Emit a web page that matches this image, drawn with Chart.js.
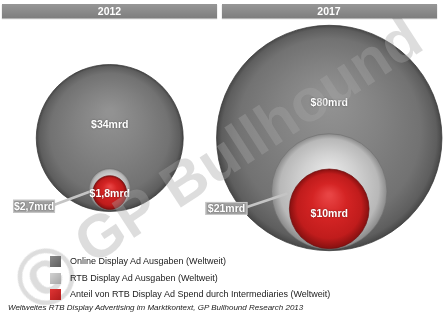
<!DOCTYPE html>
<html><head><meta charset="utf-8">
<script src="https://cdn.jsdelivr.net/npm/chart.js@4/dist/chart.umd.min.js"></script>
<style>
html,body{margin:0;padding:0;background:#fff;}
#wrap{position:relative;width:446px;height:316px;overflow:hidden;font-family:"Liberation Sans",Arial,sans-serif;}
#c{position:absolute;left:0;top:0;}
.hdr{position:absolute;top:4px;height:14px;background:linear-gradient(#979797,#7e7e7e);color:#fff;font-weight:bold;font-size:10.5px;line-height:14px;text-align:center;box-shadow:0 1px 1px rgba(0,0,0,0.3);}
.wm{position:absolute;white-space:nowrap;line-height:1;font-weight:bold;color:rgba(166,166,166,0.38);transform:translate(-50%,-50%) rotate(-33deg);}
#legend{position:absolute;left:50px;top:256px;}
.li{position:relative;height:16.5px;font-size:9px;color:#222;}
.li .sw{position:absolute;left:0;top:0;width:11px;height:11px;}
.li span{position:absolute;left:20px;top:0;line-height:11px;white-space:nowrap;}
#foot{position:absolute;left:8px;top:303px;font-size:8px;font-style:italic;color:#222;white-space:nowrap;}
</style>
</head><body>
<div id="wrap">
<canvas id="c" width="446" height="316"></canvas>
<div class="wm" style="left:46px;top:277px;font-size:80px;">©</div>
<div class="wm" style="left:248px;top:140px;font-size:60px;">GP Bullhound</div>
<div id="legend"></div>
<div id="foot">Weltweites  RTB Display Advertising im Marktkontext, GP Bullhound  Research 2013</div>
</div>
<script>
// ---- data ----
const categories = ['2012', '2017'];
const seriesNames = [
  'Online Display Ad Ausgaben (Weltweit)',
  'RTB Display Ad Ausgaben (Weltweit)',
  'Anteil von RTB Display Ad Spend durch Intermediaries (Weltweit)'
];
const onlineDisplay = [34, 80];        // $ mrd
const rtbDisplay = [2.7, 21];          // $ mrd
const rtbIntermediaries = [1.8, 10];   // $ mrd
const currencyPrefix = '$';
const unitSuffix = 'mrd';

// ---- layout helpers ----
const K = 12.6;            // px radius per sqrt(mrd)
const GAP = 1.5;
const rad = v => K * Math.sqrt(v);
const fmt = v => currencyPrefix + String(v).replace('.', ',') + unitSuffix;

const wrap = document.getElementById('wrap');
const W = 439;
categories.forEach((c, i) => {
  const d = document.createElement('div');
  d.className = 'hdr';
  const l = i * W / 2 + 2, r = (i + 1) * W / 2 - 2.5;
  d.style.left = l + 'px'; d.style.width = (r - l) + 'px';
  d.textContent = c;
  wrap.insertBefore(d, document.getElementById('legend'));
});

const swatches = [
  'linear-gradient(135deg,#8a8a8a,#5e5e5e)',
  'linear-gradient(135deg,#d2d2d2,#a6a6a6)',
  'linear-gradient(135deg,#e03434,#b01c1c)'
];
const leg = document.getElementById('legend');
seriesNames.forEach((n, i) => {
  const d = document.createElement('div'); d.className = 'li';
  const s = document.createElement('div'); s.className = 'sw'; s.style.background = swatches[i];
  const t = document.createElement('span'); t.textContent = n;
  d.appendChild(s); d.appendChild(t); leg.appendChild(d);
});

function sphere(stops) {
  return (ctx) => {
    const chart = ctx.chart, raw = ctx.raw;
    const fallback = stops[2][1];
    if (!raw || !chart.scales || !chart.scales.x || !chart.scales.y) return fallback;
    const x = chart.scales.x.getPixelForValue(raw.x);
    const y = chart.scales.y.getPixelForValue(raw.y);
    const r = raw.r;
    if (![x, y, r].every(Number.isFinite)) return fallback;
    const g = chart.ctx.createRadialGradient(x, y - r * 0.35, r * 0.05, x, y, r);
    stops.forEach(s => g.addColorStop(s[0], s[1]));
    return g;
  };
}

const outerPts = onlineDisplay.map((v, i) => ({ x: i, y: 0, r: rad(v), v }));
const whitePts = rtbDisplay.map((v, i) => ({ x: i, y: rad(onlineDisplay[i]) - rad(v) - GAP, r: rad(v), v }));
const redPts = rtbIntermediaries.map((v, i) => ({ x: i, y: rad(onlineDisplay[i]) - rad(v) - GAP - 0.5, r: rad(v), v }));

const labelPlugin = {
  id: 'labels',
  afterDatasetsDraw(chart) {
    const ctx = chart.ctx;
    const m0 = chart.getDatasetMeta(0).data, m1 = chart.getDatasetMeta(1).data, m2 = chart.getDatasetMeta(2).data;
    ctx.save();
    ctx.font = 'bold 10.5px "Liberation Sans", Arial, sans-serif';
    ctx.textAlign = 'center'; ctx.textBaseline = 'middle';
    categories.forEach((c, i) => {
      const o = m0[i], w = m1[i], rd = m2[i];
      const wr = w.options.radius, rr = rd.options.radius;
      const boxR = w.x - 0.73 * wr - 39.6;
      const boxCy = w.y + 17;
      const boxW = 42, boxH = 13;
      ctx.strokeStyle = '#c4c4c4'; ctx.lineWidth = 2.5;
      ctx.beginPath(); ctx.moveTo(boxR - 2, boxCy - 1); ctx.lineTo(rd.x - rr - 2, w.y + 2); ctx.stroke();
      ctx.fillStyle = '#a2a2a2';
      ctx.fillRect(boxR - boxW, boxCy - boxH / 2, boxW, boxH);
      ctx.strokeStyle = '#c8c8c8'; ctx.lineWidth = 1;
      ctx.strokeRect(boxR - boxW + 0.5, boxCy - boxH / 2 + 0.5, boxW - 1, boxH - 1);
      ctx.shadowColor = 'rgba(0,0,0,0.45)'; ctx.shadowBlur = 2;
      ctx.fillStyle = '#fff';
      ctx.fillText(fmt(rtbDisplay[i]), boxR - boxW / 2, boxCy + 0.5);
      ctx.fillText(fmt(onlineDisplay[i]), o.x, o.y - 0.6 * wr);
      ctx.fillText(fmt(rtbIntermediaries[i]), rd.x, rd.y + 0.12 * rr);
      ctx.shadowBlur = 0; ctx.shadowColor = 'transparent';
    });
    ctx.restore();
  }
};

new Chart(document.getElementById('c'), {
  type: 'bubble',
  data: {
    datasets: [
      { label: seriesNames[0], data: outerPts, order: 3, borderWidth: 1, borderColor: 'rgba(50,50,50,0.7)',
        backgroundColor: sphere([[0, '#929292'], [0.45, '#818181'], [0.8, '#727272'], [0.95, '#5e5e5e'], [1, '#474747']]) },
      { label: seriesNames[1], data: whitePts, order: 2, borderWidth: 1, borderColor: 'rgba(110,110,110,0.6)',
        backgroundColor: sphere([[0, '#e6e6e6'], [0.45, '#d0d0d0'], [0.85, '#b8b8b8'], [1, '#8a8a8a']]) },
      { label: seriesNames[2], data: redPts, order: 1, borderWidth: 1, borderColor: 'rgba(110,15,15,0.7)',
        backgroundColor: sphere([[0, '#e84444'], [0.4, '#d42424'], [0.8, '#c01c1c'], [1, '#861010']]) }
    ]
  },
  options: {
    responsive: false,
    animation: false,
    events: [],
    layout: { autoPadding: false, padding: { left: 0, right: 7, top: 0, bottom: 0 } },
    plugins: { legend: { display: false }, tooltip: { enabled: false } },
    scales: {
      x: { type: 'linear', min: -0.5, max: 1.5, display: false },
      y: { type: 'linear', min: -138, max: 178, reverse: true, display: false }
    },
    clip: false
  },
  plugins: [labelPlugin]
});
</script>
</body></html>
